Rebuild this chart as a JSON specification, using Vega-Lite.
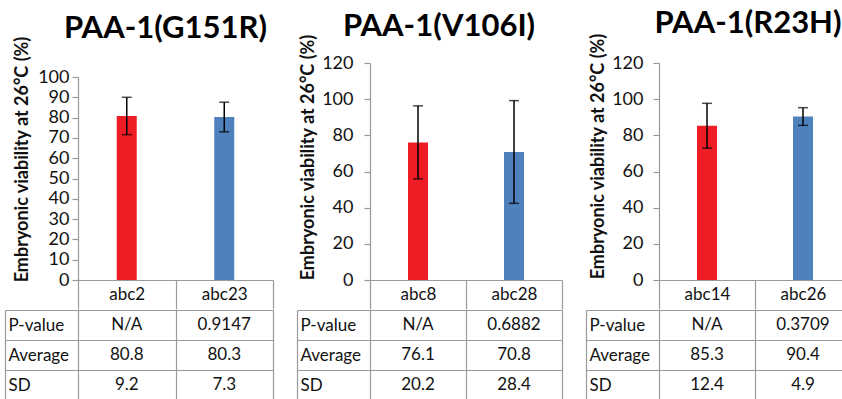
{
  "$schema": "https://vega.github.io/schema/vega-lite/v6.json",
  "padding": {"left": 4, "top": 7, "right": 0, "bottom": 0},
  "spacing": 22,
  "config": {
    "font": "Lato",
    "view": {"stroke": null},
    "title": {"fontSize": 31, "fontWeight": "bold", "color": "#000000", "anchor": "middle", "frame": "group"},
    "axis": {"labelColor": "#111111", "domainColor": "#9a9a9a", "tickColor": "#9a9a9a", "gridColor": "#9a9a9a", "titleColor": "#111111", "domainWidth": 1.2, "tickWidth": 1.2, "gridWidth": 1.2}
  },
  "data": {"values": [
    {"panel": "G151R", "strain": "abc2", "kind": "reference", "P-value": "N/A", "Average": 80.8, "SD": 9.2},
    {"panel": "G151R", "strain": "abc23", "kind": "mutant", "P-value": "0.9147", "Average": 80.3, "SD": 7.3},
    {"panel": "V106I", "strain": "abc8", "kind": "reference", "P-value": "N/A", "Average": 76.1, "SD": 20.2},
    {"panel": "V106I", "strain": "abc28", "kind": "mutant", "P-value": "0.6882", "Average": 70.8, "SD": 28.4},
    {"panel": "R23H", "strain": "abc14", "kind": "reference", "P-value": "N/A", "Average": 85.3, "SD": 12.4},
    {"panel": "R23H", "strain": "abc26", "kind": "mutant", "P-value": "0.3709", "Average": 90.4, "SD": 4.9}
  ]},
  "hconcat": [
    {
      "spacing": -11,
      "vconcat": [
        {
          "title": {"text": "PAA-1(G151R)", "dx": -10, "offset": -9},
          "width": 195, "height": 217,
          "transform": [{"filter": "datum.panel === 'G151R'"}],
          "encoding": {
            "x": {"field": "strain", "type": "nominal", "sort": null, "scale": {"paddingInner": 0, "paddingOuter": 0},
                  "axis": {"title": null, "labelAngle": 0, "labelFontSize": 17, "labelBaseline": "middle", "labelPadding": -14.5, "tickSize": 29, "tickBand": "extent", "grid": false}},
            "y": {"field": "Average", "type": "quantitative", "scale": {"domain": [0, 100], "nice": false, "range": [217, 14]},
                  "axis": {"title": "Embryonic viability at 26°C (%)", "values": [0, 10, 20, 30, 40, 50, 60, 70, 80, 90, 100], "tickSize": 6, "labelFontSize": 18, "labelPadding": 3, "grid": false, "titleFontSize": 18, "titleFontWeight": "bold", "titleY": 96, "titlePadding": 6}}
          },
          "layer": [
            {"mark": {"type": "bar", "width": 20}, "encoding": {"color": {"field": "kind", "type": "nominal", "scale": {"domain": ["reference", "mutant"], "range": ["#ee1c25", "#4f81bd"]}, "legend": null}}},
            {"mark": {"type": "errorbar", "color": "#000000", "thickness": 1.5, "ticks": {"size": 10}}, "encoding": {"yError": {"field": "SD"}}}
          ]
        },
        {
          "width": 195, "height": 90,
          "transform": [{"filter": "datum.panel === 'G151R'"}, {"fold": ["P-value", "Average", "SD"], "as": ["metric", "value"]}],
          "mark": {"type": "text", "fontSize": 17, "color": "#111111"},
          "encoding": {
            "x": {"field": "strain", "type": "nominal", "sort": null, "scale": {"paddingInner": 0, "paddingOuter": 0}, "axis": {"title": null, "labels": false, "ticks": false, "domain": false, "grid": true, "tickBand": "extent"}},
            "y": {"field": "metric", "type": "nominal", "sort": ["P-value", "Average", "SD"], "scale": {"paddingInner": 0, "paddingOuter": 0}, "axis": {"title": null, "offset": 73, "tickSize": -73, "tickBand": "extent", "labelAlign": "left", "labelPadding": 70, "labelFontSize": 17, "grid": true}},
            "text": {"field": "value", "type": "nominal"}
          }
        }
      ]
    },
    {
      "spacing": -11,
      "vconcat": [
        {
          "title": {"text": "PAA-1(V106I)", "dx": -27, "offset": -9},
          "width": 192, "height": 217,
          "transform": [{"filter": "datum.panel === 'V106I'"}],
          "encoding": {
            "x": {"field": "strain", "type": "nominal", "sort": null, "scale": {"paddingInner": 0, "paddingOuter": 0},
                  "axis": {"title": null, "labelAngle": 0, "labelFontSize": 17, "labelBaseline": "middle", "labelPadding": -14.5, "tickSize": 29, "tickBand": "extent", "grid": false}},
            "y": {"field": "Average", "type": "quantitative", "scale": {"domain": [0, 120], "nice": false},
                  "axis": {"title": "Embryonic viability at 26°C (%)", "values": [0, 20, 40, 60, 80, 100, 120], "tickSize": 6, "labelFontSize": 18, "labelPadding": 11, "grid": false, "titleFontSize": 18, "titleFontWeight": "bold", "titleY": 94, "titlePadding": 4}}
          },
          "layer": [
            {"mark": {"type": "bar", "width": 20}, "encoding": {"color": {"field": "kind", "type": "nominal", "scale": {"domain": ["reference", "mutant"], "range": ["#ee1c25", "#4f81bd"]}, "legend": null}}},
            {"mark": {"type": "errorbar", "color": "#000000", "thickness": 1.5, "ticks": {"size": 10}}, "encoding": {"yError": {"field": "SD"}}}
          ]
        },
        {
          "width": 192, "height": 90,
          "transform": [{"filter": "datum.panel === 'V106I'"}, {"fold": ["P-value", "Average", "SD"], "as": ["metric", "value"]}],
          "mark": {"type": "text", "fontSize": 17, "color": "#111111"},
          "encoding": {
            "x": {"field": "strain", "type": "nominal", "sort": null, "scale": {"paddingInner": 0, "paddingOuter": 0}, "axis": {"title": null, "labels": false, "ticks": false, "domain": false, "grid": true, "tickBand": "extent"}},
            "y": {"field": "metric", "type": "nominal", "sort": ["P-value", "Average", "SD"], "scale": {"paddingInner": 0, "paddingOuter": 0}, "axis": {"title": null, "offset": 73, "tickSize": -73, "tickBand": "extent", "labelAlign": "left", "labelPadding": 70, "labelFontSize": 17, "grid": true}},
            "text": {"field": "value", "type": "nominal"}
          }
        }
      ]
    },
    {
      "spacing": -11,
      "vconcat": [
        {
          "title": {"text": "PAA-1(R23H)", "dx": -7, "offset": -7},
          "width": 192, "height": 217,
          "transform": [{"filter": "datum.panel === 'R23H'"}],
          "encoding": {
            "x": {"field": "strain", "type": "nominal", "sort": null, "scale": {"paddingInner": 0, "paddingOuter": 0},
                  "axis": {"title": null, "labelAngle": 0, "labelFontSize": 17, "labelBaseline": "middle", "labelPadding": -14.5, "tickSize": 29, "tickBand": "extent", "grid": false}},
            "y": {"field": "Average", "type": "quantitative", "scale": {"domain": [0, 120], "nice": false},
                  "axis": {"title": "Embryonic viability at 26°C (%)", "values": [0, 20, 40, 60, 80, 100, 120], "tickSize": 6, "labelFontSize": 18, "labelPadding": 10, "grid": false, "titleFontSize": 18, "titleFontWeight": "bold", "titleY": 93, "titlePadding": 4}}
          },
          "layer": [
            {"mark": {"type": "bar", "width": 20}, "encoding": {"color": {"field": "kind", "type": "nominal", "scale": {"domain": ["reference", "mutant"], "range": ["#ee1c25", "#4f81bd"]}, "legend": null}}},
            {"mark": {"type": "errorbar", "color": "#000000", "thickness": 1.5, "ticks": {"size": 10}}, "encoding": {"yError": {"field": "SD"}}}
          ]
        },
        {
          "width": 192, "height": 90,
          "transform": [{"filter": "datum.panel === 'R23H'"}, {"fold": ["P-value", "Average", "SD"], "as": ["metric", "value"]}],
          "mark": {"type": "text", "fontSize": 17, "color": "#111111"},
          "encoding": {
            "x": {"field": "strain", "type": "nominal", "sort": null, "scale": {"paddingInner": 0, "paddingOuter": 0}, "axis": {"title": null, "labels": false, "ticks": false, "domain": false, "grid": true, "tickBand": "extent"}},
            "y": {"field": "metric", "type": "nominal", "sort": ["P-value", "Average", "SD"], "scale": {"paddingInner": 0, "paddingOuter": 0}, "axis": {"title": null, "offset": 73, "tickSize": -73, "tickBand": "extent", "labelAlign": "left", "labelPadding": 70, "labelFontSize": 17, "grid": true}},
            "text": {"field": "value", "type": "nominal"}
          }
        }
      ]
    }
  ]
}
